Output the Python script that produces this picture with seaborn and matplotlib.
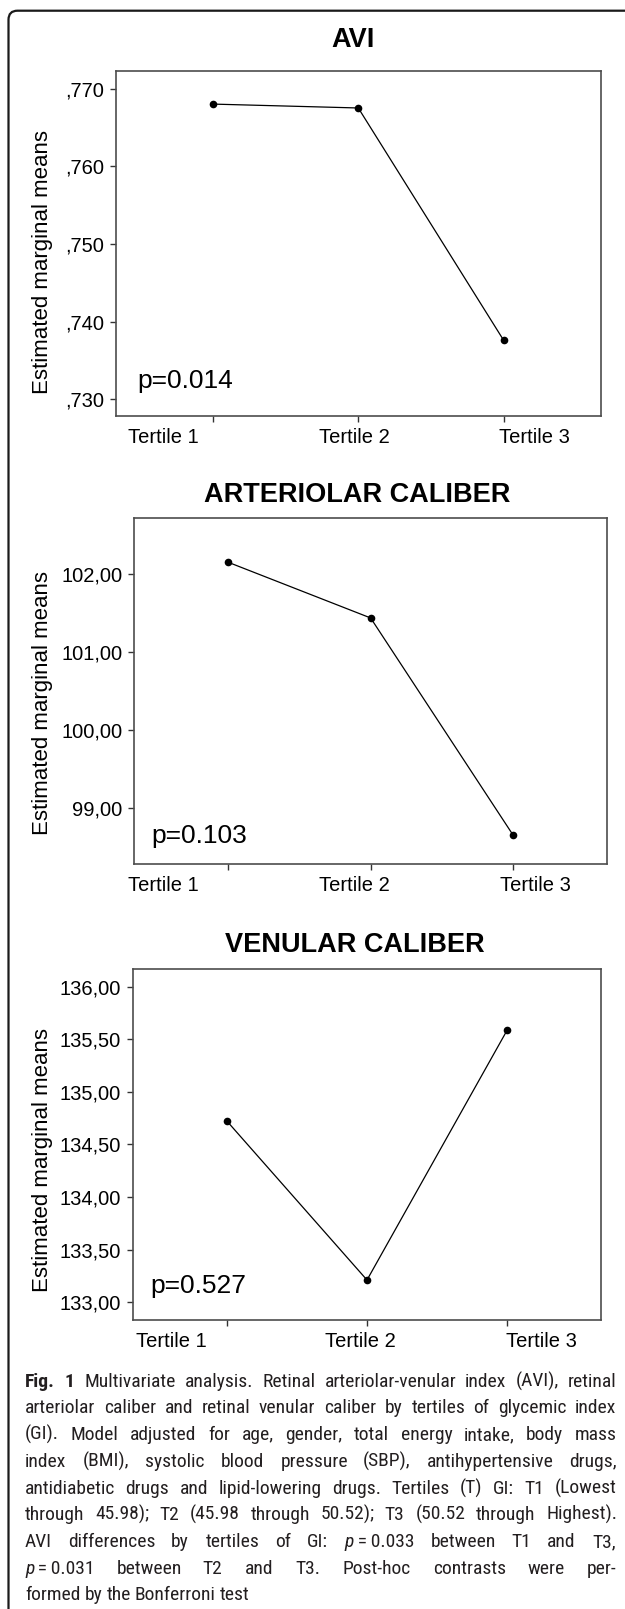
import matplotlib
matplotlib.use("Agg")
import matplotlib.pyplot as plt
import matplotlib.transforms as mtransforms
from matplotlib.patches import FancyBboxPatch
from matplotlib import font_manager
import pandas as pd
import seaborn as sns

# Data
tertiles = ["Tertile 1", "Tertile 2", "Tertile 3"]
avi_means = [0.7680, 0.7675, 0.7376]
arteriolar_means = [102.146, 101.433, 98.654]
venular_means = [134.723, 133.212, 135.586]

avi_ticks = [0.730, 0.740, 0.750, 0.760, 0.770]
avi_labels = [",730", ",740", ",750", ",760", ",770"]
arteriolar_ticks = [99.0, 100.0, 101.0, 102.0]
arteriolar_labels = ["99,00", "100,00", "101,00", "102,00"]
venular_ticks = [133.0, 133.5, 134.0, 134.5, 135.0, 135.5, 136.0]
venular_labels = ["133,00", "133,50", "134,00", "134,50", "135,00", "135,50", "136,00"]

titles = ["AVI", "ARTERIOLAR CALIBER", "VENULAR CALIBER"]
p_texts = ["p=0.014", "p=0.103", "p=0.527"]

caption_lines = [
    "Fig. 1 Multivariate analysis. Retinal arteriolar-venular index (AVI), retinal",
    "arteriolar caliber and retinal venular caliber by tertiles of glycemic index",
    "(GI). Model adjusted for age, gender, total energy intake, body mass",
    "index (BMI), systolic blood pressure (SBP), antihypertensive drugs,",
    "antidiabetic drugs and lipid-lowering drugs. Tertiles (T) GI: T1 (Lowest",
    "through 45.98); T2 (45.98 through 50.52); T3 (50.52 through Highest).",
    "AVI differences by tertiles of GI: p\u2009=\u20090.033 between T1 and T3,",
    "p\u2009=\u20090.031 between T2 and T3. Post-hoc contrasts were per-",
    "formed by the Bonferroni test",
]

# Layout (pixels from top-left of a 625x1609 canvas)
W, H, DPI = 625, 1609, 100
boxes = [(115.6, 71, 601, 416), (134.3, 517.7, 607, 864.3), (133, 969.3, 601, 1320)]
ylims = [(0.72785, 0.77226), (98.279, 102.717), (132.832, 136.165)]
xlims = [(-0.67, 2.67), (-0.66, 2.66), (-0.67, 2.67)]
title_base = [46.7, 501.7, 951.7]
title_x = [352.7, 356.7, 354.7]
ylab_y = [262.5, 703, 1160]
p_pos = [(0.045, 0.080), (0.0353, 0.0606), (0.0378, 0.0761)]
label_shift = [(-50, -4, 31), (-65, -16, 22), (-56, -7, 34)]

sns.set_theme(style="ticks")
plt.rcParams["font.family"] = ["Liberation Sans", "DejaVu Sans"]

fig = plt.figure(figsize=(W / DPI, H / DPI), dpi=DPI)
fig.patch.set_facecolor("white")

series = [avi_means, arteriolar_means, venular_means]
yticks = [avi_ticks, arteriolar_ticks, venular_ticks]
ylabels = [avi_labels, arteriolar_labels, venular_labels]

axes = []
for i in range(3):
    l, t, r, b = boxes[i]
    ax = fig.add_axes([l / W, 1 - b / H, (r - l) / W, (b - t) / H])
    df = pd.DataFrame({"tertile": tertiles, "mean": series[i]})
    sns.lineplot(data=df, x="tertile", y="mean", ax=ax, sort=False, color="black",
                 linewidth=0.9, marker="o", markersize=5.5, markeredgewidth=0)
    ax.set_xlim(*xlims[i])
    ax.set_ylim(*ylims[i])
    ax.set_yticks(yticks[i])
    ax.set_yticklabels(ylabels[i])
    ax.set_xlabel("")
    ax.set_ylabel("Estimated marginal means", fontsize=16, color="black")
    ax.yaxis.set_label_coords(43 / W, 1 - ylab_y[i] / H, transform=fig.transFigure)
    ax.yaxis.label.set_va("center")
    ax.tick_params(axis="both", length=4, width=1, color="#333333", pad=4.5,
                   labelsize=14.5, labelcolor="black")
    for sp in ax.spines.values():
        sp.set_color("#4d4d4d")
        sp.set_linewidth(1.2)
    ax.set_facecolor("white")
    ax.text(p_pos[i][0], p_pos[i][1], p_texts[i], transform=ax.transAxes,
            fontsize=19, ha="left", va="baseline", color="black")
    fig.text(title_x[i] / W, 1 - title_base[i] / H, titles[i], fontsize=19.5,
             fontweight="bold", ha="center", va="baseline", color="black")
    axes.append(ax)

fig.canvas.draw()
for ax, shifts in zip(axes, label_shift):
    for lbl, dx in zip(ax.get_xticklabels(), shifts):
        lbl.set_transform(lbl.get_transform() +
                          mtransforms.ScaledTranslation(dx / DPI, 0, fig.dpi_scale_trans))

# Rounded frame around the panel (cut by the right and bottom edges)
border = FancyBboxPatch((8.5 / DPI, -0.5), 7, (H - 10.7) / DPI + 0.5,
                        boxstyle="round,pad=0,rounding_size=0.09",
                        transform=fig.dpi_scale_trans, fill=False,
                        ec="#1a1a1a", lw=1.6)
fig.add_artist(border)

# Caption, justified line by line
have = {f.name for f in font_manager.fontManager.ttflist}
cap_family = next(f for f in ["Liberation Sans Narrow", "Roboto Condensed", "Roboto",
                              "Liberation Sans"] if f in have)
renderer = fig.canvas.get_renderer()


def measure(txt, style, size):
    tt = fig.text(0, 0, txt, fontsize=size, family=cap_family,
                  fontweight="bold" if style == "bold" else "normal",
                  fontstyle="italic" if style == "italic" else "normal")
    w = tt.get_window_extent(renderer).width
    tt.remove()
    return w


def segments(li, wi, word):
    if li == 0 and wi < 2:
        return [(word, "bold")]
    if word.startswith("p\u2009"):
        return [("p", "italic"), (word[1:], "normal")]
    return [(word, "normal")]


s0 = 10.0
cap_left, cap_right = 25, 616
target = cap_right - cap_left
space0 = measure("a a", "normal", s0) - measure("aa", "normal", s0)
words0 = []
for li, line in enumerate(caption_lines):
    ws = []
    for wi, word in enumerate(line.split(" ")):
        segs = segments(li, wi, word)
        ws.append([(s, st, measure(s, st, s0)) for s, st in segs])
    words0.append(ws)
# allow word spaces to shrink a little, as a typesetter would
natural = [sum(w for ws in line for _, _, w in ws) + 0.7 * space0 * (len(line) - 1)
           for line in words0[:-1]]
size = min(14.0, s0 * target / max(natural))
k = size / s0

for li, line in enumerate(words0):
    yb = 1386.7 + li * 26.7
    wsum = sum(w for ws in line for _, _, w in ws) * k
    if li < len(words0) - 1 and len(line) > 1:
        gap = (target - wsum) / (len(line) - 1)
    else:
        gap = space0 * k
    x = cap_left
    for ws in line:
        for s, st, w in ws:
            fig.text(x / DPI, (H - yb) / DPI, s, transform=fig.dpi_scale_trans,
                     fontsize=size, family=cap_family, color="#231f20",
                     fontweight="bold" if st == "bold" else "normal",
                     fontstyle="italic" if st == "italic" else "normal",
                     ha="left", va="baseline")
            x += w * k
        x += gap

fig.savefig("out.png", dpi=DPI, facecolor="white")
